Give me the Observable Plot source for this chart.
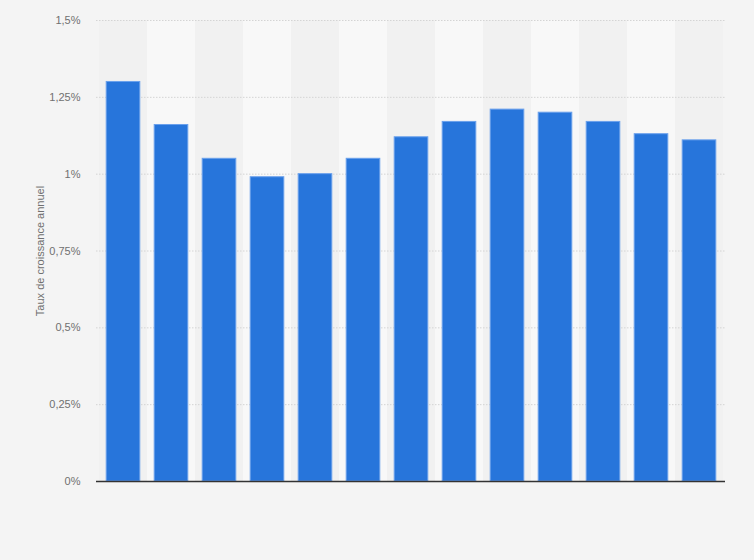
<!DOCTYPE html>
<html>
<head>
<meta charset="utf-8">
<script src="https://cdn.jsdelivr.net/npm/d3@7"></script>
<script src="https://cdn.jsdelivr.net/npm/@observablehq/plot@0.6"></script>
<style>
  html, body { margin: 0; padding: 0; background: #f4f4f4; }
  #chart { width: 754px; height: 560px; }
  svg { font-family: "Liberation Sans", Arial, sans-serif; }
</style>
</head>
<body>
<div id="chart"></div>
<script>
const categories = ["P1","P2","P3","P4","P5","P6","P7","P8","P9","P10","P11","P12","P13"];
const values = [1.30, 1.16, 1.05, 0.99, 1.00, 1.05, 1.12, 1.17, 1.21, 1.20, 1.17, 1.13, 1.11];
const yTicks = [0, 0.25, 0.5, 0.75, 1, 1.25, 1.5];
const yTickLabels = ["0%", "0,25%", "0,5%", "0,75%", "1%", "1,25%", "1,5%"];
const yLabel = "Taux de croissance annuel";

const chart = Plot.plot({
  width: 754,
  height: 560,
  marginLeft: 96,
  marginRight: 29,
  marginTop: 20,
  marginBottom: 79,
  style: { background: "#f4f4f4", fontFamily: "'Liberation Sans', Arial, sans-serif" },
  x: { domain: categories, padding: 0, axis: null },
  y: { domain: [0, 1.5], axis: null },
  color: { type: "identity" },
  marks: [
    Plot.barY(categories, {
      x: d => d, y1: 0, y2: 1.5,
      fill: (d, i) => (i % 2 ? "#f8f8f8" : "#f1f1f1")
    }),
    Plot.ruleY(yTicks.filter(t => t > 0), {
      stroke: "#d4d4d4", strokeDasharray: "1.5,1.5", strokeWidth: 1
    }),
    Plot.barY(values, {
      x: (d, i) => categories[i], y: d => d,
      fill: "#2775db", stroke: "#6aa0ec", strokeWidth: 1,
      insetLeft: 7.2, insetRight: 7.2
    }),
    Plot.ruleY([0], { stroke: "#333", strokeWidth: 1.5 }),
    Plot.axisY({
      ticks: yTicks,
      tickFormat: d => yTickLabels[yTicks.indexOf(d)],
      tickSize: 0,
      tickPadding: 16,
      fontSize: 11,
      color: "#707070",
      label: yLabel,
      labelAnchor: "center",
      labelArrow: "none",
      labelOffset: 60
    })
  ]
});
document.getElementById("chart").appendChild(chart);
</script>
</body>
</html>
